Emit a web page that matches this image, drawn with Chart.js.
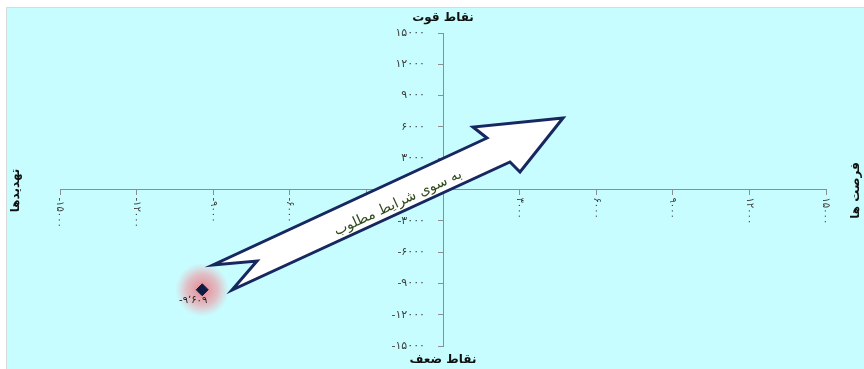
<!DOCTYPE html>
<html lang="fa">
<head>
<meta charset="utf-8">
<script src="https://cdn.jsdelivr.net/npm/chart.js@4.4.1/dist/chart.umd.min.js"></script>
<style>
  html, body { margin: 0; padding: 0; background: #fff; }
  #wrap { width: 864px; height: 369px; }
</style>
</head>
<body>
<div id="wrap"><canvas id="swot" width="864" height="369"></canvas></div>
<script>
// data
const pointX = [-9430];
const pointY = [-9609];
const axisMin = -15000;
const axisMax = 15000;
const axisStep = 3000;

const titleTop = 'نقاط قوت';
const titleBottom = 'نقاط ضعف';
const titleRight = 'فرصت ها';
const titleLeft = 'تهدیدها';
const arrowText = 'به سوی شرایط مطلوب';

// arrow outline in data units (tip, upper barb, upper neck, tail upper, notch, tail lower, lower neck, lower barb)
const arrowX = [4700, 1175, 1723, -9008, -7285, -8264, 2624, 3016];
const arrowY = [6853, 5990, 4936, -7236, -6853, -9633, 2636, 1677];
const arrowTextAt = [-1762, -1294];

const FA = '۰۱۲۳۴۵۶۷۸۹';
function toFa(n, sep) {
    let s = String(Math.abs(Math.round(n)));
    if (sep) s = s.replace(/\B(?=(\d{3})+(?!\d))/g, '٬');
    s = s.replace(/\d/g, d => FA[d]);
    return (n < 0 ? '-' : '') + s;
}

const BG = '#c8fdff';
const AXIS = '#8a8f93';
const FONT = '"DejaVu Sans", sans-serif';

// background, titles, arrow, glow and the Persian tick labels
const swotDecor = {
    id: 'swotDecor',
    beforeDraw(chart) {
        const { ctx, width, height } = chart;
        ctx.save();
        ctx.fillStyle = '#ffffff';
        ctx.fillRect(0, 0, width, height);
        ctx.fillStyle = BG;
        ctx.fillRect(7, 8, width - 7, height - 8);
        ctx.strokeStyle = '#d6dcdc';
        ctx.lineWidth = 1;
        ctx.beginPath();
        ctx.moveTo(6.5, height);
        ctx.lineTo(6.5, 7.5);
        ctx.lineTo(width, 7.5);
        ctx.stroke();
        ctx.restore();
    },
    afterDraw(chart) {
        const { ctx, chartArea } = chart;
        const xs = chart.scales.x, ys = chart.scales.y;
        const cx = xs.getPixelForValue(0), cy = ys.getPixelForValue(0);
        ctx.save();

        ctx.fillStyle = '#3c3c3c';
        ctx.font = '11px ' + FONT;
        ctx.letterSpacing = '2px';
        ctx.textBaseline = 'middle';

        // y tick labels
        ctx.textAlign = 'right';
        ys.ticks.forEach(t => {
            if (t.value === 0) return;
            ctx.fillText(toFa(t.value), cx - 18, ys.getPixelForValue(t.value));
        });

        // x tick labels, rotated clockwise
        ctx.font = '10px ' + FONT;
        ctx.letterSpacing = '1.5px';
        ctx.textAlign = 'left';
        xs.ticks.forEach(t => {
            if (t.value === 0) return;
            ctx.save();
            ctx.translate(xs.getPixelForValue(t.value), cy + 8);
            ctx.rotate(Math.PI / 2);
            ctx.fillText(toFa(t.value), 0, 0);
            ctx.restore();
        });
        ctx.letterSpacing = '0px';

        // axis titles
        ctx.fillStyle = '#111';
        ctx.font = 'bold 12px ' + FONT;
        ctx.textAlign = 'center';
        ctx.textBaseline = 'middle';
        ctx.fillText(titleTop, cx, chartArea.top - 15);
        ctx.fillText(titleBottom, cx, chartArea.bottom + 14);
        [[titleRight, chartArea.right + 30], [titleLeft, chartArea.left - 44]].forEach(([txt, x]) => {
            ctx.save();
            ctx.translate(x, cy + 1);
            ctx.rotate(-Math.PI / 2);
            ctx.fillText(txt, 0, 0);
            ctx.restore();
        });

        // arrow
        ctx.beginPath();
        arrowX.forEach((v, i) => {
            const px = xs.getPixelForValue(v), py = ys.getPixelForValue(arrowY[i]);
            if (i === 0) ctx.moveTo(px, py); else ctx.lineTo(px, py);
        });
        ctx.closePath();
        ctx.fillStyle = '#ffffff';
        ctx.fill();
        ctx.lineJoin = 'miter';
        ctx.lineWidth = 3;
        ctx.strokeStyle = '#17275f';
        ctx.stroke();

        const ax0 = xs.getPixelForValue(arrowX[3]), ay0 = ys.getPixelForValue(arrowY[3]);
        const ax1 = xs.getPixelForValue(arrowX[2]), ay1 = ys.getPixelForValue(arrowY[2]);
        const ang = Math.atan2(ay1 - ay0, ax1 - ax0);
        ctx.save();
        ctx.translate(xs.getPixelForValue(arrowTextAt[0]), ys.getPixelForValue(arrowTextAt[1]));
        ctx.rotate(ang);
        ctx.fillStyle = '#2f4a1a';
        ctx.font = '14px ' + FONT;
        ctx.textAlign = 'center';
        ctx.textBaseline = 'middle';
        ctx.direction = 'rtl';
        ctx.fillText(arrowText, 0, 0);
        ctx.restore();

        ctx.restore();
    },
    beforeDatasetsDraw(chart) {
        const { ctx } = chart;
        const meta = chart.getDatasetMeta(0);
        ctx.save();
        meta.data.forEach(el => {
            const g = ctx.createRadialGradient(el.x, el.y, 2, el.x, el.y, 27);
            g.addColorStop(0, 'rgba(235,120,130,0.85)');
            g.addColorStop(0.55, 'rgba(240,150,160,0.6)');
            g.addColorStop(1, 'rgba(240,170,180,0)');
            ctx.fillStyle = g;
            ctx.beginPath();
            ctx.arc(el.x, el.y, 27, 0, Math.PI * 2);
            ctx.fill();
        });
        ctx.restore();
    },
    afterDatasetsDraw(chart) {
        const { ctx } = chart;
        const meta = chart.getDatasetMeta(0);
        ctx.save();
        ctx.fillStyle = '#222';
        ctx.font = '10px ' + FONT;
        ctx.letterSpacing = '1px';
        ctx.textAlign = 'center';
        ctx.textBaseline = 'middle';
        meta.data.forEach((el, i) => {
            ctx.fillText(toFa(pointY[i], true), el.x - 9, el.y + 11);
        });
        ctx.restore();
    }
};

const scaleBase = {
    type: 'linear',
    min: axisMin,
    max: axisMax,
    grid: { drawOnChartArea: false, drawTicks: true, tickLength: 5, color: AXIS, lineWidth: 1 },
    border: { color: AXIS, width: 1 }
};

new Chart(document.getElementById('swot'), {
    type: 'scatter',
    data: {
        datasets: [{
            data: pointX.map((x, i) => ({ x, y: pointY[i] })),
            pointStyle: 'rectRot',
            pointRadius: 6,
            pointHoverRadius: 6,
            backgroundColor: '#0e1b45',
            borderColor: '#0e1b45'
        }]
    },
    options: {
        responsive: false,
        animation: false,
        events: [],
        layout: { padding: { left: 60, right: 38, top: 33, bottom: 23 } },
        plugins: { legend: { display: false }, tooltip: { enabled: false } },
        scales: {
            x: {
                ...scaleBase,
                position: { y: 0 },
                ticks: { stepSize: axisStep, callback: () => '', padding: 0 }
            },
            y: {
                ...scaleBase,
                position: { x: 0 },
                ticks: { stepSize: axisStep, callback: () => '', padding: 0 }
            }
        }
    },
    plugins: [swotDecor]
});
</script>
</body>
</html>
